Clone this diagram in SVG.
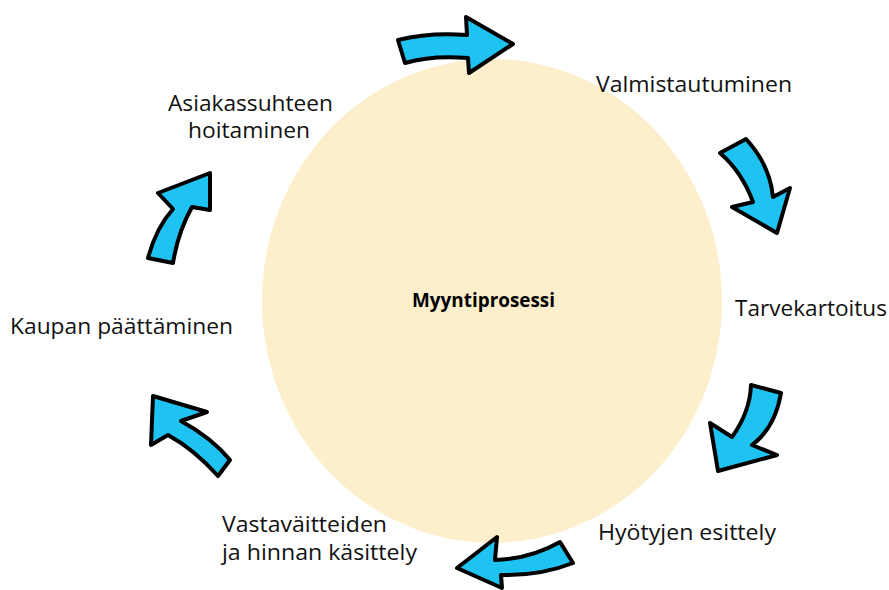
<svg xmlns="http://www.w3.org/2000/svg" width="889" height="590" viewBox="0 0 889 590">
<style>
.lbl{font-family:"Open Sans","Liberation Sans",sans-serif;font-size:21px;fill:#111}
.arr{fill:#1EC3F2;stroke:#000;stroke-width:4;stroke-linejoin:round}
</style>
<rect width="889" height="590" fill="#fff"/>
<g id="center">
<ellipse cx="492" cy="301" rx="230" ry="242" fill="#FDEFCB"/>
<text x="412" y="307" textLength="143" lengthAdjust="spacingAndGlyphs" style="font-family:'Open Sans','Liberation Sans',sans-serif;font-size:19px;font-weight:bold;fill:#000">Myyntiprosessi</text>
</g>
<g id="n1"><text class="lbl" x="596" y="92" textLength="196" lengthAdjust="spacingAndGlyphs">Valmistautuminen</text></g>
<g id="n2"><text class="lbl" x="735" y="316" textLength="152" lengthAdjust="spacingAndGlyphs">Tarvekartoitus</text></g>
<g id="n3"><text class="lbl" x="598" y="540" textLength="178" lengthAdjust="spacingAndGlyphs">Hyötyjen esittely</text></g>
<g id="n4"><text class="lbl" x="222" y="532" textLength="165" lengthAdjust="spacingAndGlyphs">Vastaväitteiden</text><text class="lbl" x="222" y="560" textLength="195" lengthAdjust="spacingAndGlyphs">ja hinnan käsittely</text></g>
<g id="n5"><text class="lbl" x="10" y="334" textLength="223" lengthAdjust="spacingAndGlyphs">Kaupan päättäminen</text></g>
<g id="n6"><text class="lbl" x="168" y="111" textLength="165" lengthAdjust="spacingAndGlyphs">Asiakassuhteen</text><text class="lbl" x="188" y="138" textLength="122" lengthAdjust="spacingAndGlyphs">hoitaminen</text></g>
<g id="connectors">
<path class="arr" d="M398,40 Q430,32 467,35 L466,17 L513,44 L469,73 L468,58 Q432,55 405,63 Z"/>
<path class="arr" d="M720,153 L746,139 Q770,165 773,197 L790,188 L777,233 L732,207 L753,202 Q742,172 720,153 Z"/>
<path class="arr" d="M751,385 L781,393 Q775,428 752,445 L777,455 L718,471 L710,423 L732,437 Q750,412 751,385 Z"/>
<path class="arr" d="M560,542 L573,563 Q540,576 501,575 L502,588 L457,568 L497,537 L495,560 Q530,559 560,542 Z"/>
<path class="arr" d="M153,396 L207,412 L181,421 Q212,438 230,460 L218,476 Q195,450 168,435 L151,445 Z"/>
<path class="arr" d="M210,173 L210,210 L192,207 Q178,232 173,263 L148,258 Q156,228 173,209 L158,193 Z"/>
</g>
</svg>
